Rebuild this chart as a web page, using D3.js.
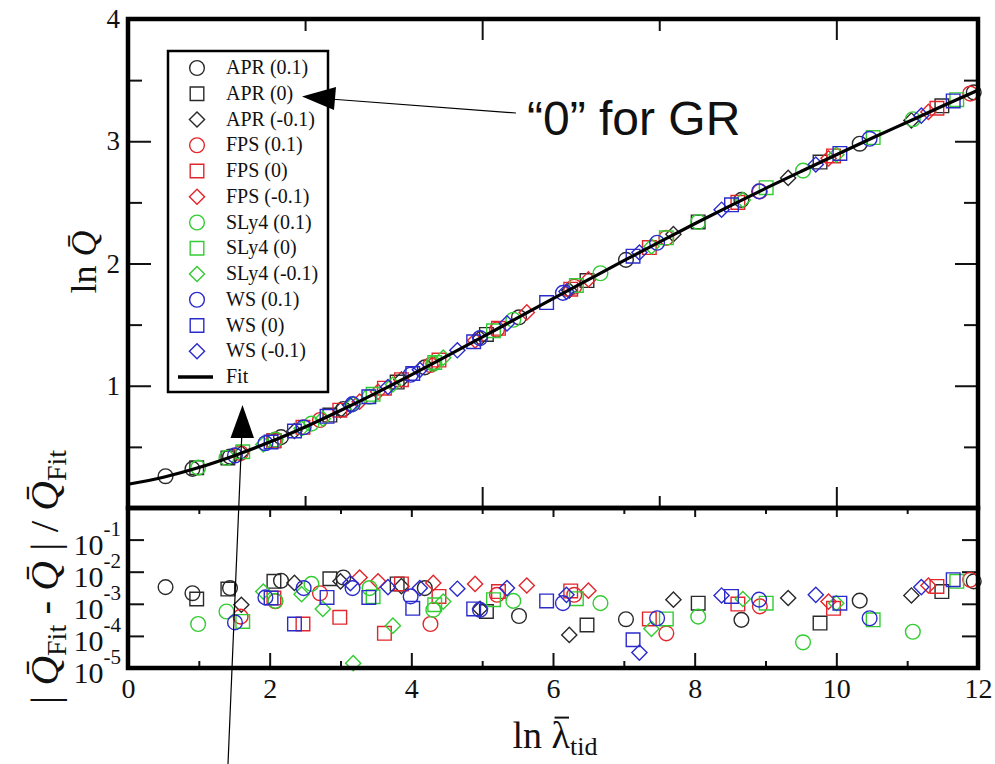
<!DOCTYPE html>
<html>
<head>
<meta charset="utf-8">
<script src="https://cdn.jsdelivr.net/npm/d3@7"></script>
<style>
  body { margin: 0; background: #fff; }
  text { font-family: "Liberation Serif", "Times New Roman", serif; fill: #111; }
</style>
</head>
<body>
<svg id="chart" width="995" height="764"></svg>
<script>
// each point: [ln lambda_tid, ln Q, log10 |Qfit - Q| / Qfit]
const aprP = [[0.53,0.26,-2.48],[0.91,0.32,-2.67],[1.44,0.42,-2.51],[2.16,0.58,-2.28],[3.04,0.81,-2.18],[4.19,1.15,-2.51],[5.52,1.56,-3.38],[7.03,2.03,-3.48],[8.66,2.52,-3.50],[10.33,2.98,-2.90],[11.94,3.40,-2.30]];
const apr0 = [[0.97,0.33,-2.85],[1.41,0.41,-2.54],[2.06,0.55,-2.30],[2.85,0.76,-2.22],[3.80,1.03,-2.38],[5.06,1.42,-3.24],[6.48,1.86,-3.66],[8.05,2.34,-2.98],[9.77,2.83,-3.60],[11.49,3.29,-2.62]];
const aprM = [[1.60,0.45,-3.03],[2.35,0.63,-2.35],[3.00,0.80,-2.30],[3.86,1.05,-2.45],[4.97,1.39,-3.16],[6.23,1.78,-3.97],[7.70,2.24,-2.87],[9.32,2.70,-2.82],[11.06,3.17,-2.74]];
const fpsP = [[1.59,0.45,-3.40],[2.08,0.56,-2.92],[2.71,0.72,-2.67],[4.27,1.17,-3.63],[5.21,1.46,-2.72],[6.30,1.81,-2.72],[7.60,2.21,-3.92],[8.92,2.59,-3.08],[11.89,3.39,-2.25]];
const fps0 = [[2.06,0.55,-2.82],[2.47,0.66,-3.63],[2.99,0.80,-3.42],[3.62,0.98,-3.92],[3.86,1.05,-2.38],[4.39,1.21,-2.77],[5.23,1.47,-2.62],[6.25,1.79,-2.60],[7.36,2.13,-3.47],[8.61,2.50,-3.01],[9.96,2.88,-3.14],[11.42,3.27,-2.46]];
const fpsM = [[3.27,0.87,-2.18],[3.53,0.95,-2.30],[4.31,1.18,-2.35],[4.90,1.37,-2.38],[5.63,1.60,-2.43],[6.50,1.87,-2.59],[9.89,2.86,-2.93],[11.30,3.24,-2.43]];
const slyP = [[0.99,0.33,-3.63],[1.39,0.41,-3.24],[2.08,0.56,-2.91],[2.59,0.69,-2.38],[3.41,0.91,-2.51],[4.31,1.18,-3.19],[5.44,1.54,-2.91],[6.67,1.92,-2.98],[8.05,2.34,-3.40],[9.53,2.76,-4.20],[11.08,3.18,-3.87]];
const sly0 = [[1.62,0.46,-3.55],[3.46,0.93,-2.78],[4.33,1.19,-3.03],[5.16,1.45,-2.87],[6.33,1.82,-2.84],[7.60,2.21,-3.47],[9.01,2.62,-2.98],[10.52,3.03,-3.50],[11.70,3.34,-2.30]];
const slyM = [[1.91,0.52,-2.62],[2.45,0.65,-2.70],[2.75,0.73,-3.16],[3.18,0.85,-4.85],[3.74,1.01,-3.68],[4.45,1.23,-2.93],[7.39,2.14,-3.78],[8.68,2.52,-2.85],[10.00,2.89,-2.98]];
const wsP = [[1.51,0.43,-3.58],[1.94,0.53,-2.80],[2.48,0.66,-2.51],[3.17,0.85,-2.51],[3.99,1.09,-2.77],[4.97,1.39,-3.19],[6.14,1.76,-2.98],[7.47,2.17,-3.45],[8.91,2.59,-2.87],[10.47,3.02,-3.45]];
const ws0 = [[2.02,0.54,-2.82],[2.35,0.63,-3.63],[2.81,0.75,-2.80],[3.40,0.91,-2.80],[4.02,1.10,-3.14],[4.88,1.36,-3.16],[5.91,1.68,-2.91],[7.13,2.06,-4.12],[8.52,2.48,-2.77],[10.05,2.90,-2.98],[11.65,3.33,-2.25]];
const wsM = [[3.14,0.84,-2.36],[3.67,0.99,-2.48],[4.12,1.13,-2.51],[4.65,1.29,-2.53],[5.35,1.51,-2.51],[6.19,1.77,-2.72],[7.22,2.09,-4.52],[8.38,2.44,-2.74],[9.71,2.81,-2.72],[11.20,3.21,-2.48]];

// fit curve
const fitX = [0,0.5,1,1.5,2,2.5,3,3.5,4,4.5,5,5.5,6,6.5,7,7.5,8,8.5,9,9.5,10,10.5,11,11.5,12];
const fitY = [0.194,0.252,0.331,0.428,0.539,0.663,0.798,0.940,1.089,1.242,1.398,1.555,1.712,1.868,2.023,2.175,2.325,2.471,2.614,2.753,2.890,3.024,3.156,3.288,3.418];

const seriesNames = ["APR (0.1)","APR (0)","APR (-0.1)","FPS (0.1)","FPS (0)","FPS (-0.1)","SLy4 (0.1)","SLy4 (0)","SLy4 (-0.1)","WS (0.1)","WS (0)","WS (-0.1)"];
const seriesData = [aprP, apr0, aprM, fpsP, fps0, fpsM, slyP, sly0, slyM, wsP, ws0, wsM];
const eosColors = ["#2a2a2a", "#e3262b", "#33cc33", "#2b2bcc"];
const shapes = ["circle", "square", "diamond"];

const xTicksMajor = [0,2,4,6,8,10,12];
const xTicksMinor = [1,3,5,7,9,11];
const yTopMajor = [1,2,3,4];
const yTopMinor = [0.5,1.5,2.5,3.5];
const yBotExp = [-1,-2,-3,-4,-5];

const svg = d3.select("#chart");

const x = d3.scaleLinear().domain([0, 12]).range([128, 978]);
const yTop = d3.scaleLinear().domain([0, 4]).range([508, 19]);
const yBot = d3.scaleLog().domain([1e-5, 1]).range([668, 507.5]);

const symbolPath = {
    circle: d3.symbol().type(d3.symbolCircle).size(170)(),
    square: d3.symbol().type(d3.symbolSquare).size(185)(),
    diamond: d3.symbol().type(d3.symbolSquare).size(115)()
};

function drawPoint(sel, shape, color) {
    sel.append("path")
        .attr("d", symbolPath[shape])
        .attr("transform", shape === "diamond" ? "rotate(45)" : null)
        .attr("fill", "none")
        .attr("stroke", color)
        .attr("stroke-width", 1.4);
}

function clean(g) {
    g.select(".domain").remove();
    g.selectAll(".tick line").attr("stroke", "#111").attr("stroke-width", 2);
}

// ---- ticks, top panel ----
svg.append("g").attr("transform", "translate(128,0)")
    .call(d3.axisLeft(yTop).tickValues(yTopMajor).tickSizeInner(-23).tickSizeOuter(0).tickPadding(8).tickFormat(d3.format("d")))
    .call(clean)
    .call(g => g.selectAll("text").attr("font-size", 27).attr("font-family", "Liberation Serif").attr("fill", "#111"));
svg.append("g").attr("transform", "translate(128,0)")
    .call(d3.axisLeft(yTop).tickValues(yTopMinor).tickSizeInner(-14).tickSizeOuter(0).tickFormat(""))
    .call(clean);
svg.append("g").attr("transform", "translate(978,0)")
    .call(d3.axisRight(yTop).tickValues(yTopMajor).tickSizeInner(-23).tickSizeOuter(0).tickFormat(""))
    .call(clean);
svg.append("g").attr("transform", "translate(978,0)")
    .call(d3.axisRight(yTop).tickValues(yTopMinor).tickSizeInner(-14).tickSizeOuter(0).tickFormat(""))
    .call(clean);
svg.append("g").attr("transform", "translate(0,19)")
    .call(d3.axisTop(x).tickValues([5, 10]).tickSizeInner(-21).tickSizeOuter(0).tickFormat(""))
    .call(clean);
svg.append("g").attr("transform", "translate(0,19)")
    .call(d3.axisTop(x).tickValues([2.5, 7.5]).tickSizeInner(-12).tickSizeOuter(0).tickFormat(""))
    .call(clean);
svg.append("g").attr("transform", "translate(0,508)")
    .call(d3.axisBottom(x).tickValues([5, 10]).tickSizeInner(-21).tickSizeOuter(0).tickFormat(""))
    .call(clean);
svg.append("g").attr("transform", "translate(0,508)")
    .call(d3.axisBottom(x).tickValues([2.5, 7.5]).tickSizeInner(-12).tickSizeOuter(0).tickFormat(""))
    .call(clean);

// ---- ticks, bottom panel ----
svg.append("g").attr("transform", "translate(0,668)")
    .call(d3.axisBottom(x).tickValues(xTicksMajor).tickSizeInner(-15).tickSizeOuter(0).tickPadding(10).tickFormat(d3.format("d")))
    .call(clean)
    .call(g => g.selectAll("text").attr("font-size", 28).attr("font-family", "Liberation Serif").attr("fill", "#111"));
svg.append("g").attr("transform", "translate(0,668)")
    .call(d3.axisBottom(x).tickValues(xTicksMinor).tickSizeInner(-7).tickSizeOuter(0).tickFormat(""))
    .call(clean);
svg.append("g").attr("transform", "translate(0,508)")
    .call(d3.axisTop(x).tickValues(xTicksMajor).tickSizeInner(-9).tickSizeOuter(0).tickFormat(""))
    .call(clean);
svg.append("g").attr("transform", "translate(0,508)")
    .call(d3.axisTop(x).tickValues(xTicksMinor).tickSizeInner(-6).tickSizeOuter(0).tickFormat(""))
    .call(clean);
svg.append("g").attr("transform", "translate(128,0)")
    .call(d3.axisLeft(yBot).tickValues(yBotExp.map(e => Math.pow(10, e))).tickSizeInner(-16).tickSizeOuter(0).tickFormat(""))
    .call(clean);
svg.append("g").attr("transform", "translate(978,0)")
    .call(d3.axisRight(yBot).tickValues(yBotExp.slice(0, 4).map(e => Math.pow(10, e))).tickSizeInner(-16).tickSizeOuter(0).tickFormat(""))
    .call(clean);

// 10^n labels
yBotExp.forEach(e => {
    const t = svg.append("text")
        .attr("x", 121)
        .attr("y", yBot(Math.pow(10, e)) + 15)
        .attr("text-anchor", "end")
        .attr("font-size", 30);
    t.append("tspan").text("10");
    t.append("tspan").attr("font-size", 21).attr("dy", -19).text(String(e));
});

// ---- points ----
const topLayer = svg.append("g");
const botLayer = svg.append("g");
seriesData.forEach((pts, i) => {
    const color = eosColors[Math.floor(i / 3)];
    const shape = shapes[i % 3];
    topLayer.selectAll(null).data(pts).enter().append("g")
        .attr("transform", d => `translate(${x(d[0])},${yTop(d[1])})`)
        .each(function () { drawPoint(d3.select(this), shape, color); });
    botLayer.selectAll(null).data(pts).enter().append("g")
        .attr("transform", d => `translate(${x(d[0])},${yBot(Math.pow(10, d[2]))})`)
        .each(function () { drawPoint(d3.select(this), shape, color); });
});

// fit line
const line = d3.line().x(d => x(d[0])).y(d => yTop(d[1])).curve(d3.curveMonotoneX);
svg.append("path")
    .datum(fitX.map((v, i) => [v, fitY[i]]))
    .attr("d", line)
    .attr("fill", "none")
    .attr("stroke", "#000")
    .attr("stroke-width", 3.2);

// frames
svg.append("rect").attr("x", 128).attr("y", 19).attr("width", 850).attr("height", 489)
    .attr("fill", "none").attr("stroke", "#000").attr("stroke-width", 4.5);
svg.append("rect").attr("x", 128).attr("y", 508).attr("width", 850).attr("height", 160)
    .attr("fill", "none").attr("stroke", "#000").attr("stroke-width", 4.5);

// ---- legend ----
const legend = svg.append("g");
legend.append("rect").attr("x", 168).attr("y", 51).attr("width", 160).attr("height", 341)
    .attr("fill", "#fff").attr("stroke", "#000").attr("stroke-width", 2.5);
const rowY = i => 68 + i * 25.75;
seriesNames.forEach((name, i) => {
    const g = legend.append("g").attr("transform", `translate(197,${rowY(i)})`);
    drawPoint(g, shapes[i % 3], eosColors[Math.floor(i / 3)]);
    legend.append("text").attr("x", 226).attr("y", rowY(i) + 6).attr("font-size", 20).text(name);
});
legend.append("line").attr("x1", 178).attr("x2", 213).attr("y1", rowY(12)).attr("y2", rowY(12))
    .attr("stroke", "#000").attr("stroke-width", 3.5);
legend.append("text").attr("x", 226).attr("y", rowY(12) + 6).attr("font-size", 20).text("Fit");

// ---- axis titles ----
const yl = svg.append("text")
    .attr("transform", "translate(96,262) rotate(-90)")
    .attr("text-anchor", "middle")
    .attr("font-size", 36);
yl.append("tspan").text("ln ");
yl.append("tspan").attr("font-style", "italic").text("Q\u0304");

const yl2 = svg.append("text")
    .attr("transform", "translate(58,577) rotate(-90)")
    .attr("text-anchor", "middle")
    .attr("font-size", 41);
yl2.append("tspan").text("| ");
yl2.append("tspan").attr("font-style", "italic").text("Q\u0304");
yl2.append("tspan").attr("font-size", 28).attr("dy", 8).text("Fit");
yl2.append("tspan").attr("dy", -8).text(" - ");
yl2.append("tspan").attr("font-style", "italic").text("Q\u0304");
yl2.append("tspan").text(" | / ");
yl2.append("tspan").attr("font-style", "italic").text("Q\u0304");
yl2.append("tspan").attr("font-size", 28).attr("dy", 8).text("Fit");

const xlSize = 38;
const xlBase = 748;
const xl = svg.append("text")
    .attr("x", 555).attr("y", xlBase)
    .attr("text-anchor", "middle")
    .attr("font-size", xlSize);
xl.append("tspan").text("ln ");
xl.append("tspan").text("\u03bb");
xl.append("tspan").attr("font-size", 26).attr("dy", 7).text("tid");
// bar over lambda
const lam = xl.node().getExtentOfChar(3);
svg.append("line")
    .attr("x1", lam.x + 3).attr("x2", lam.x + lam.width - 1)
    .attr("y1", xlBase - xlSize * 0.8).attr("y2", xlBase - xlSize * 0.8)
    .attr("stroke", "#111").attr("stroke-width", 2);

// ---- annotation ----
svg.append("text")
    .attr("x", 527).attr("y", 135)
    .style("font-family", "'Liberation Sans', Arial, sans-serif")
    .attr("font-size", 48)
    .text("\u201c0\u201d for GR");

svg.append("line").attr("x1", 516).attr("y1", 113).attr("x2", 330).attr("y2", 99)
    .attr("stroke", "#000").attr("stroke-width", 1.2);
svg.append("polygon").attr("points", "302,96.5 336,87 334,110").attr("fill", "#000");

svg.append("line").attr("x1", 228).attr("y1", 764).attr("x2", 242).attr("y2", 430)
    .attr("stroke", "#000").attr("stroke-width", 1.2);
svg.append("polygon").attr("points", "242.5,405 230.5,438 254,438").attr("fill", "#000");
</script>
</body>
</html>
